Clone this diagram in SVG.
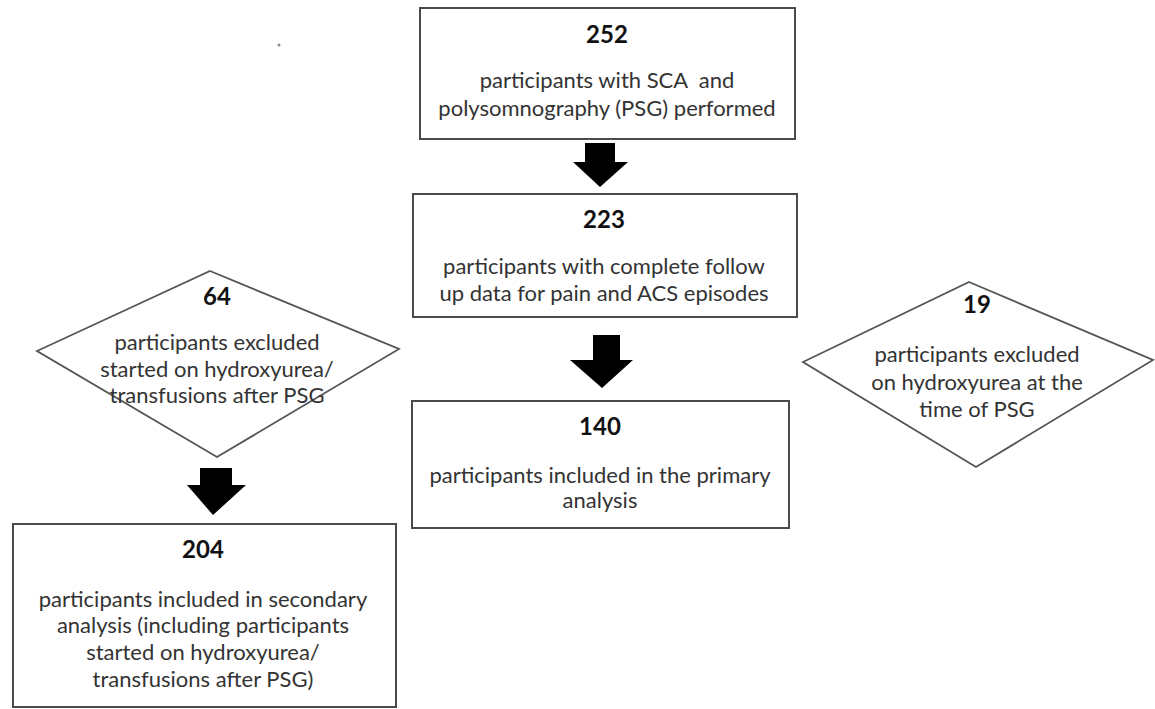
<svg xmlns="http://www.w3.org/2000/svg" width="1155" height="709" viewBox="0 0 1155 709">
<style>
.box{fill:#fff;stroke:#4a4a4a;stroke-width:2}
.dia{fill:#fff;stroke:#555;stroke-width:1.8}
.num{font-family:Lato,"Open Sans",sans-serif;font-weight:bold;font-size:24px;fill:#111;text-anchor:middle}
.t{font-family:Lato,"Open Sans",sans-serif;font-size:22px;fill:#333;text-anchor:middle;white-space:pre}
.arr{fill:#000}
</style>
<rect width="1155" height="709" fill="#fff"/>
<circle cx="279" cy="45" r="1.5" fill="#888"/>
<g id="connectors">
<path class="arr" d="M585,143 H615 V162 H628 L600,187 L573,162 H585 Z"/>
<path class="arr" d="M593,335 H620 V360 H633 L602,388 L570,360 H593 Z"/>
<path class="arr" d="M200,468 H232 V485 H246 L213,515 L187,485 H200 Z"/>
</g>
<g id="n252">
<rect class="box" x="420" y="8" width="375" height="131"/>
<text class="num" x="607" y="43">252</text>
<text class="t" x="607" y="88">participants with SCA  and</text>
<text class="t" x="607" y="116">polysomnography (PSG) performed</text>
</g>
<g id="n223">
<rect class="box" x="413" y="194" width="384" height="123"/>
<text class="num" x="604" y="228">223</text>
<text class="t" x="604" y="274">participants with complete follow</text>
<text class="t" x="604" y="301">up data for pain and ACS episodes</text>
</g>
<g id="n140">
<rect class="box" x="412" y="401" width="377" height="127"/>
<text class="num" x="600" y="435">140</text>
<text class="t" x="600" y="483">participants included in the primary</text>
<text class="t" x="600" y="508">analysis</text>
</g>
<g id="n64">
<polygon class="dia" points="210,271 399,349 217,457 37,351"/>
<text class="num" x="217" y="305">64</text>
<text class="t" x="217" y="350">participants excluded</text>
<text class="t" x="217" y="377">started on hydroxyurea/</text>
<text class="t" x="217" y="403">transfusions after PSG</text>
</g>
<g id="n19">
<polygon class="dia" points="969,282 1153,360 976,467 803,362"/>
<text class="num" x="977" y="313">19</text>
<text class="t" x="977" y="362">participants excluded</text>
<text class="t" x="977" y="390">on hydroxyurea at the</text>
<text class="t" x="977" y="417">time of PSG</text>
</g>
<g id="n204">
<rect class="box" x="13" y="524" width="383" height="183"/>
<text class="num" x="203" y="558">204</text>
<text class="t" x="203" y="607">participants included in secondary</text>
<text class="t" x="203" y="633">analysis (including participants</text>
<text class="t" x="203" y="660">started on hydroxyurea/</text>
<text class="t" x="203" y="687">transfusions after PSG)</text>
</g>
</svg>
